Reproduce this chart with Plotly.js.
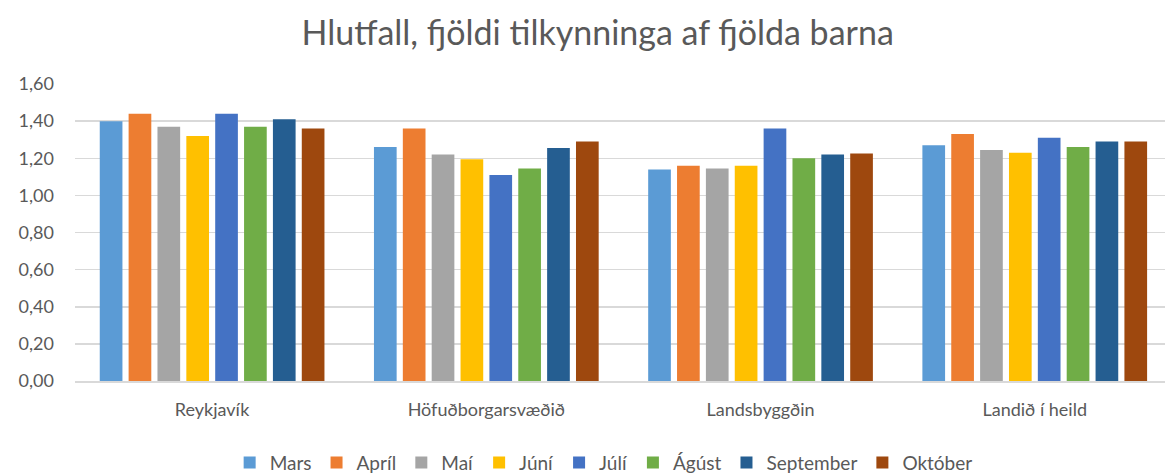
<!DOCTYPE html>
<html>
<head>
<meta charset="utf-8">
<script src="https://cdn.plot.ly/plotly-3.0.1.min.js"></script>
<style>html,body{margin:0;padding:0;background:#fff}#chart{width:1165px;height:476px}</style>
</head>
<body>
<div id="chart"></div>
<script>
const categories = ["Reykjavík", "Höfuðborgarsvæðið", "Landsbyggðin", "Landið í heild"];
const months = ["Mars", "Apríl", "Maí", "Júní", "Júlí", "Ágúst", "September", "Október"];
const mars      = [1.40, 1.26, 1.14, 1.27];
const april     = [1.44, 1.36, 1.16, 1.33];
const mai       = [1.37, 1.22, 1.145, 1.245];
const juni      = [1.32, 1.195, 1.16, 1.23];
const juli      = [1.44, 1.11, 1.36, 1.31];
const agust     = [1.37, 1.145, 1.20, 1.26];
const september = [1.41, 1.255, 1.22, 1.29];
const oktober   = [1.36, 1.29, 1.225, 1.29];
const seriesValues = [mars, april, mai, juni, juli, agust, september, oktober];
const colors = ["#5B9BD5", "#ED7D31", "#A5A5A5", "#FFC000", "#4472C4", "#70AD47", "#255E91", "#9E480E"];
const yTicks = [0, 0.2, 0.4, 0.6, 0.8, 1.0, 1.2, 1.4, 1.6];

const font = "Lato, 'Open Sans', sans-serif";
const traces = months.map((m, i) => ({
  type: "bar",
  name: m,
  x: categories,
  y: seriesValues[i],
  marker: {color: colors[i], line: {width: 0}},
  hoverinfo: "x+y+name"
}));

const layout = {
  width: 1165, height: 476,
  margin: {l: 75, r: 0, t: 83.7, b: 95, autoexpand: false},
  paper_bgcolor: "#fff", plot_bgcolor: "#fff",
  separators: ", ",
  font: {family: font, color: "#595959", size: 18},
  title: {text: "Hlutfall, fjöldi tilkynninga af fjölda barna", x: 0.513, xanchor: "center", y: 0.93, yanchor: "middle",
          font: {family: font, size: 34, color: "#595959"}},
  barmode: "group",
  bargap: 0.158,
  bargroupgap: 0.214,
  xaxis: {
    type: "category",
    range: [-0.5, 3.475],
    showgrid: false,
    showline: true, linecolor: "#D9D9D9", linewidth: 1.5,
    ticks: "", ticklabelstandoff: 12,
    tickfont: {family: font, size: 18, color: "#595959"},
    fixedrange: true
  },
  yaxis: {
    range: [0, 1.6],
    tickvals: yTicks,
    tickformat: ".2f",
    showgrid: true, gridcolor: "#D9D9D9", gridwidth: 1.5,
    zeroline: false, showline: false,
    ticks: "", ticklabelstandoff: 20,
    tickfont: {family: font, size: 18, color: "#595959"},
    fixedrange: true
  },
  legend: {
    orientation: "h", x: 0.485, xanchor: "center",
    yref: "container", y: 0.028, yanchor: "middle",
    font: {family: font, size: 19, color: "#595959"},
    itemwidth: 30, traceorder: "normal"
  },
  showlegend: true
};

Plotly.newPlot("chart", traces, layout, {displayModeBar: false, staticPlot: true});
</script>
</body>
</html>
